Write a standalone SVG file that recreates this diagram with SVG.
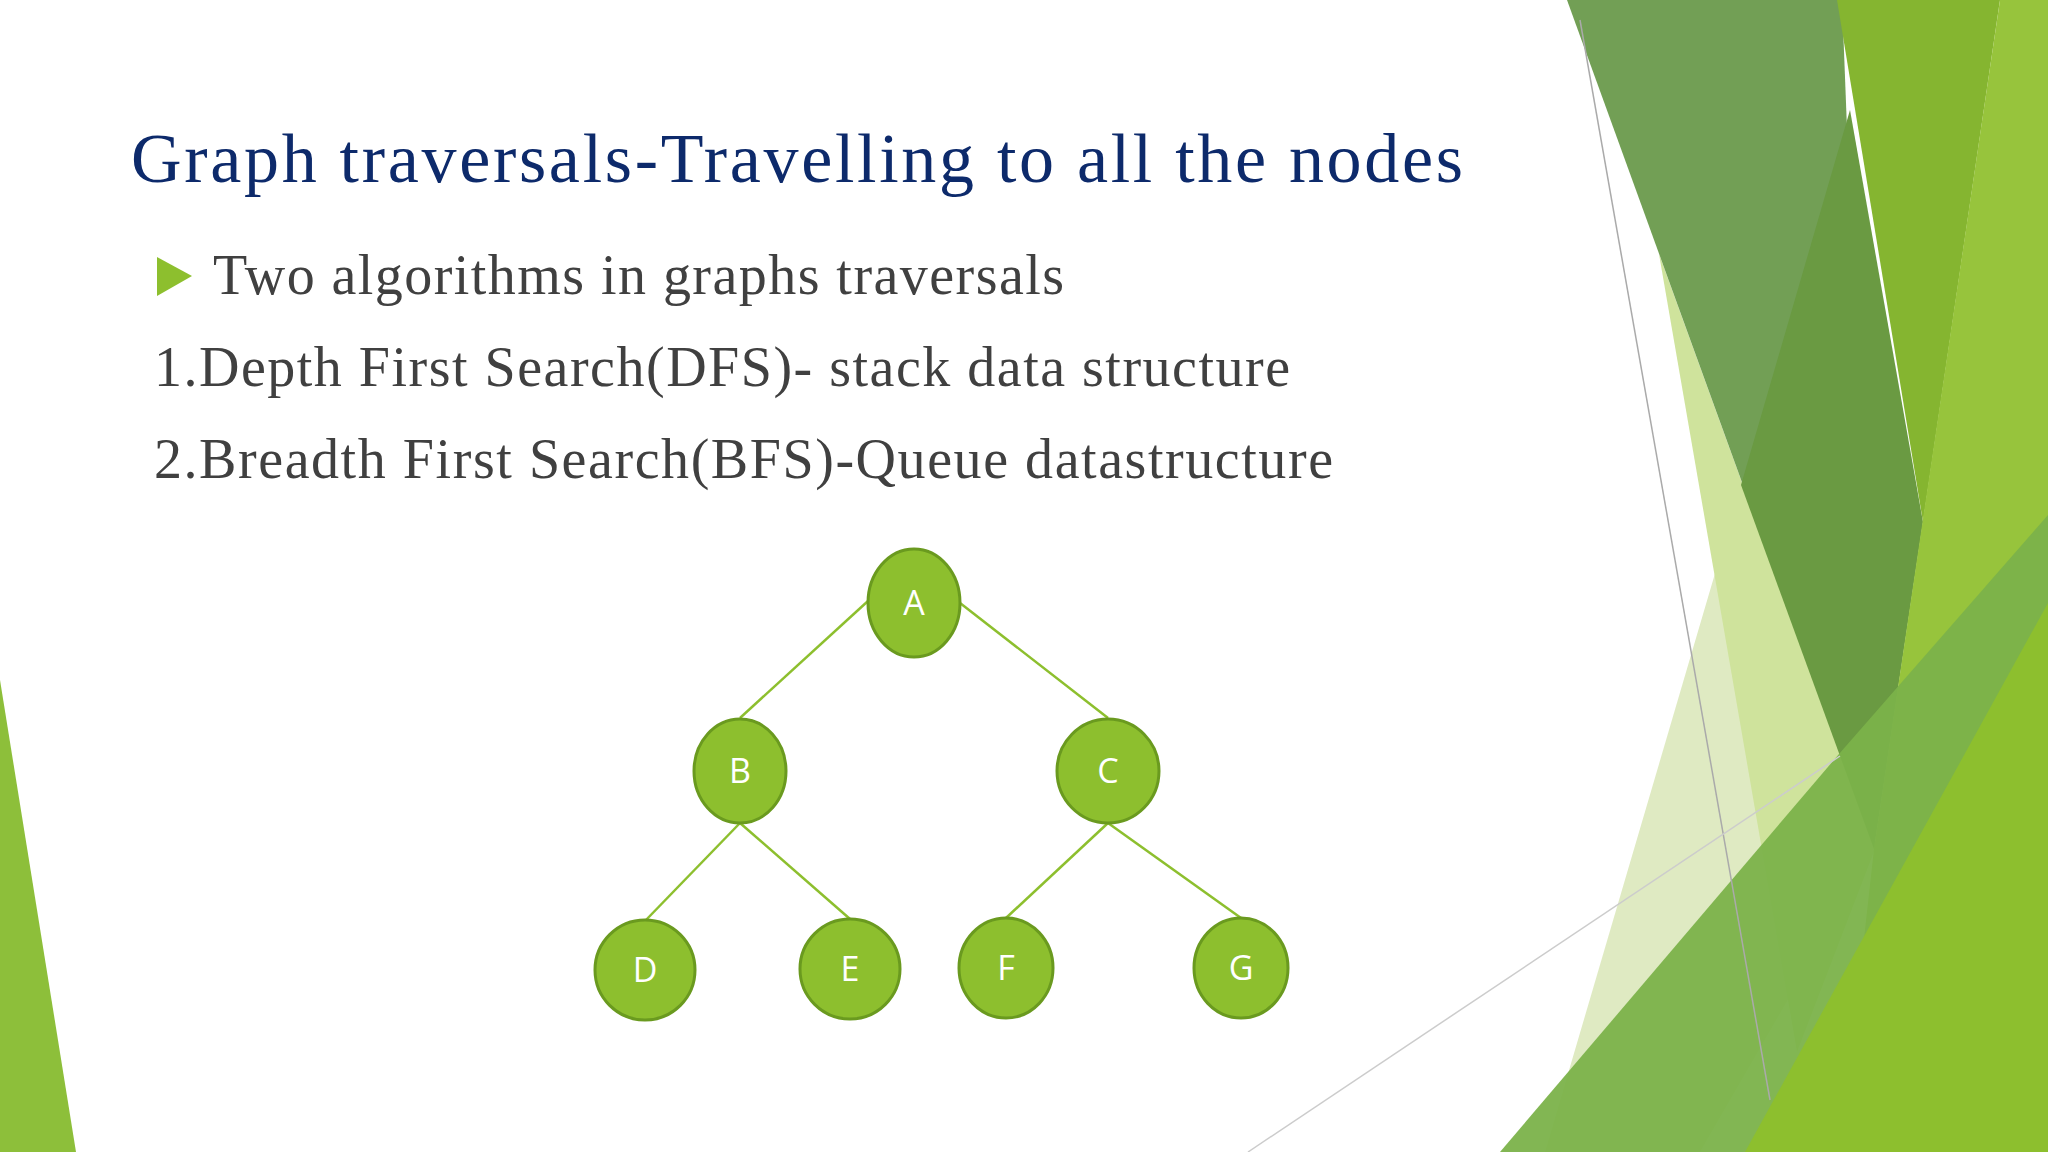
<svg xmlns="http://www.w3.org/2000/svg" width="2048" height="1152" viewBox="0 0 2048 1152">
<style>
.n ellipse{fill:#8dbf2e;stroke:#6a9a1f;stroke-width:3}
.n text{font-family:"Open Sans","Noto Sans",sans-serif;font-size:34px;fill:#fff;text-anchor:middle}
.e line{stroke:#8dbf2e;stroke-width:2.5}
.t{font-family:"Liberation Serif","Times New Roman",serif;fill:#404040;font-size:56px}
</style>
<rect width="2048" height="1152" fill="#fff"/>
<g id="decor">
<polygon points="0,680 76,1152 0,1152" fill="#8dbf3a"/>
<polygon points="1741,485 1875,849 1700,1152 1545,1152" fill="#dfeac2"/>
<polygon points="1659,254 1875,849 1797,1052" fill="#cfe39c"/>
<polygon points="1567,0 1842,0 1875,849" fill="#729f55"/>
<polygon points="1850,110 1923,522 1874,849 1741,485" fill="#6a9a42"/>
<polygon points="1837,0 2000,0 1923,522" fill="#85b530"/>
<polygon points="2000,0 2048,0 2048,1152 1840,1152 1874,849" fill="#97c43c"/>
<polygon points="1500,1152 1839,754 2048,515 2048,1152" fill="#7bb24a" opacity="0.95"/>
<polygon points="1745,1152 2048,603 2048,1152" fill="#8dbf2e"/>
<line x1="1580" y1="20" x2="1770" y2="1100" stroke="#aaa" stroke-width="1.5"/>
<line x1="1248" y1="1152" x2="1840" y2="756" stroke="#ccc" stroke-width="1.5"/>
</g>
<text x="131" y="182" font-family="Liberation Serif,serif" font-size="70" fill="#0d2a6b" textLength="1332">Graph traversals-Travelling to all the nodes</text>
<polygon points="157,257 192,276 157,296" fill="#8dbf2e"/>
<text class="t" x="213" y="294" textLength="851">Two algorithms in graphs traversals</text>
<text class="t" x="154" y="386" textLength="1136">1.Depth First Search(DFS)- stack data structure</text>
<text class="t" x="154" y="478" textLength="1179">2.Breadth First Search(BFS)-Queue datastructure</text>
<g id="edges" class="e">
<line x1="868" y1="601" x2="740" y2="718"/>
<line x1="960" y1="603" x2="1108" y2="718"/>
<line x1="740" y1="823" x2="645" y2="921"/>
<line x1="740" y1="823" x2="850" y2="919"/>
<line x1="1108" y1="823" x2="1006" y2="918"/>
<line x1="1108" y1="823" x2="1241" y2="918"/>
</g>
<g id="A" class="n"><ellipse cx="914" cy="603" rx="46" ry="54"/><text x="914" y="615">A</text></g>
<g id="B" class="n"><ellipse cx="740" cy="771" rx="46" ry="52"/><text x="740" y="783">B</text></g>
<g id="C" class="n"><ellipse cx="1108" cy="771" rx="51" ry="52"/><text x="1108" y="783">C</text></g>
<g id="D" class="n"><ellipse cx="645" cy="970" rx="50" ry="50"/><text x="645" y="982">D</text></g>
<g id="E" class="n"><ellipse cx="850" cy="969" rx="50" ry="50"/><text x="850" y="981">E</text></g>
<g id="F" class="n"><ellipse cx="1006" cy="968" rx="47" ry="50"/><text x="1006" y="980">F</text></g>
<g id="G" class="n"><ellipse cx="1241" cy="968" rx="47" ry="50"/><text x="1241" y="980">G</text></g>
</svg>
